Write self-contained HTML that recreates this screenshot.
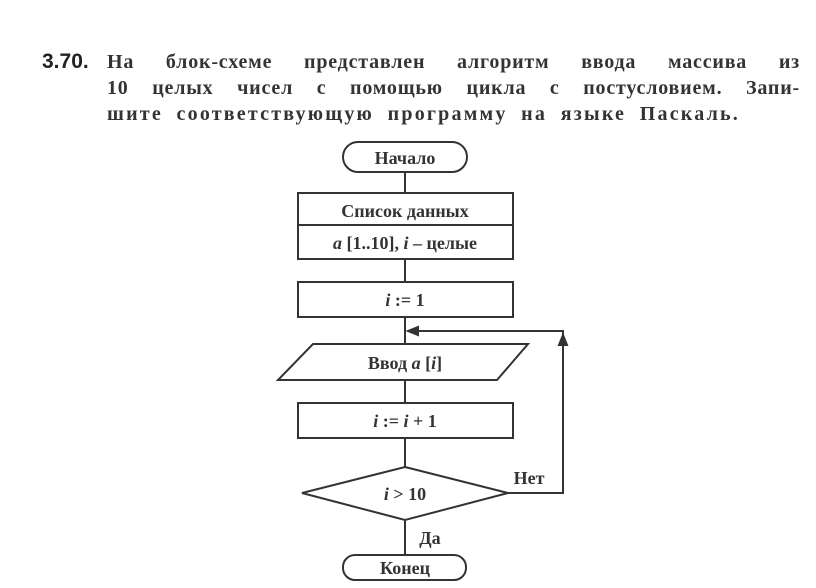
<!DOCTYPE html>
<html><head><meta charset="utf-8"><style>
body{margin:0;background:#fff;width:816px;height:588px;overflow:hidden;position:relative}
.t{position:absolute;left:107px;width:693px;font-family:"Liberation Serif",serif;font-size:20px;font-weight:bold;letter-spacing:0.8px;color:#333;text-align:justify;text-align-last:justify;white-space:nowrap;line-height:20px}
.n{position:absolute;left:42px;top:50px;font-family:"Liberation Sans",sans-serif;font-weight:bold;font-size:21px;color:#222}
</style></head><body>
<div class="n">3.70.</div>
<div class="t" style="top:52px">На блок-схеме представлен алгоритм ввода массива из</div>
<div class="t" style="top:78px">10 целых чисел с помощью цикла с постусловием. Запи-</div>
<div class="t" style="top:104px;width:633px;letter-spacing:2.2px">шите соответствующую программу на языке Паскаль.</div>
<svg width="816" height="588" style="position:absolute;left:0;top:0" font-family="Liberation Serif,serif" font-weight="bold" fill="none" stroke="#333" stroke-width="2">
<rect x="343" y="142" width="124" height="30" rx="15"/>
<line x1="405" y1="172" x2="405" y2="193"/>
<rect x="298" y="193" width="215" height="66"/>
<line x1="298" y1="225" x2="513" y2="225"/>
<line x1="405" y1="259" x2="405" y2="282"/>
<rect x="298" y="282" width="215" height="35"/>
<line x1="405" y1="317" x2="405" y2="344"/>
<polygon points="313,344 528,344 497,380 278,380"/>
<line x1="405" y1="380" x2="405" y2="403"/>
<rect x="298" y="403" width="215" height="35"/>
<line x1="405" y1="438" x2="405" y2="467"/>
<polygon points="405,467 508,493 405,520 302,493"/>
<polyline points="508,493 563,493 563,331 408,331"/>
<polygon points="408,331 418,327 418,335" fill="#333"/>
<polygon points="563,335 559,345 567,345" fill="#333"/>
<line x1="405" y1="520" x2="405" y2="555"/>
<rect x="343" y="555" width="123" height="25" rx="12"/>
<g fill="#333" stroke="none" font-size="18" text-anchor="middle">
<text x="405" y="164">Начало</text>
<text x="405" y="217">Список данных</text>
<text x="405" y="249"><tspan font-style="italic">a</tspan> [1..10], <tspan font-style="italic">i</tspan> – целые</text>
<text x="405" y="306"><tspan font-style="italic">i</tspan> := 1</text>
<text x="405" y="369">Ввод <tspan font-style="italic">a</tspan> [<tspan font-style="italic">i</tspan>]</text>
<text x="405" y="427"><tspan font-style="italic">i</tspan> := <tspan font-style="italic">i</tspan> + 1</text>
<text x="405" y="500"><tspan font-style="italic">i</tspan> &gt; 10</text>
<text x="529" y="484">Нет</text>
<text x="430" y="544">Да</text>
<text x="405" y="574">Конец</text>
</g>
</svg>
</body></html>
